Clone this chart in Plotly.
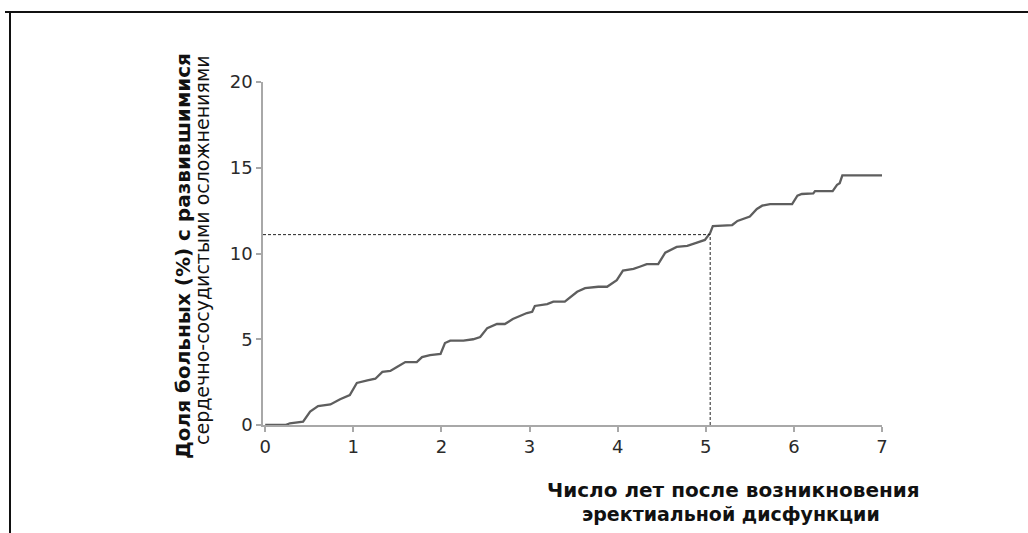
import plotly.graph_objects as go

years = [0.00, 0.23, 0.28, 0.43, 0.51, 0.60, 0.74, 0.85, 0.96, 1.04, 1.16, 1.25, 1.33, 1.42,
         1.50, 1.59, 1.72, 1.78, 1.87, 1.99, 2.04, 2.10, 2.25, 2.36, 2.44, 2.52, 2.63, 2.72,
         2.81, 2.97, 3.03, 3.06, 3.20, 3.27, 3.40, 3.54, 3.63, 3.78, 3.88, 3.99, 4.06, 4.18,
         4.25, 4.33, 4.46, 4.54, 4.67, 4.79, 4.90, 4.99, 5.05, 5.08, 5.30, 5.36, 5.50, 5.58,
         5.64, 5.73, 5.98, 6.04, 6.09, 6.22, 6.24, 6.44, 6.49, 6.52, 6.55, 7.00]
percent = [0.00, 0.00, 0.10, 0.20, 0.78, 1.10, 1.20, 1.50, 1.75, 2.45, 2.60, 2.70, 3.10, 3.15,
           3.40, 3.67, 3.67, 3.96, 4.08, 4.14, 4.78, 4.92, 4.92, 5.00, 5.13, 5.65, 5.89, 5.89,
           6.18, 6.53, 6.60, 6.94, 7.05, 7.19, 7.19, 7.77, 7.98, 8.06, 8.06, 8.45, 9.00, 9.10,
           9.23, 9.38, 9.38, 10.05, 10.38, 10.44, 10.63, 10.79, 11.20, 11.60, 11.66, 11.90, 12.15, 12.60,
           12.79, 12.88, 12.88, 13.37, 13.47, 13.50, 13.64, 13.64, 14.00, 14.10, 14.55, 14.55]

ref_year = 5.05
ref_percent = 11.1

x_ticks = [0, 1, 2, 3, 4, 5, 6, 7]
y_ticks = [0, 5, 10, 15, 20]

y_title_1 = "Доля больных (%) с развившимися"
y_title_2 = "сердечно-сосудистыми осложнениями"
x_title_1 = "Число лет после возникновения"
x_title_2 = "эректиальной дисфункции"

W, H = 1028, 533
L, R, T, B = 263, 882, 82, 425
pw, ph = R - L, B - T


def px(xp):
    return (xp - L) / pw


def py(yp):
    return (B - yp) / ph


FONT = "DejaVu Sans, Arial, sans-serif"

fig = go.Figure()
fig.add_trace(go.Scatter(x=years, y=percent, mode="lines",
                         line=dict(color="#5e5e5e", width=2.3), showlegend=False,
                         hoverinfo="skip"))

axis_common = dict(showgrid=False, zeroline=False, showline=True, linecolor="#a8a8a8",
                   linewidth=1.5, ticks="outside", ticklen=5, tickcolor="#a8a8a8",
                   tickwidth=1.5, tickfont=dict(family=FONT, size=18, color="#2a2a2a"))

fig.update_layout(
    width=W, height=H,
    margin=dict(l=L, r=W - R, t=T, b=H - B, pad=0),
    paper_bgcolor="white", plot_bgcolor="white",
    xaxis=dict(range=[-0.025, 7.0], tickvals=x_ticks, **axis_common),
    yaxis=dict(range=[0, 20], tickvals=y_ticks, **axis_common),
)

# dashed reference lines
fig.add_shape(type="line", xref="x", yref="y", x0=-0.025, x1=ref_year, y0=ref_percent, y1=ref_percent,
              line=dict(color="#222222", width=1, dash="3px,2px"))
fig.add_shape(type="line", xref="x", yref="y", x0=ref_year, x1=ref_year, y0=0, y1=ref_percent,
              line=dict(color="#222222", width=1, dash="3px,2px"))

# frame lines
fig.add_shape(type="line", xref="paper", yref="paper", x0=px(5), x1=px(1030), y0=py(12), y1=py(12),
              line=dict(color="#111111", width=2))
fig.add_shape(type="line", xref="paper", yref="paper", x0=px(10), x1=px(10), y0=py(12), y1=py(540),
              line=dict(color="#111111", width=2))

# axis titles
fig.add_annotation(xref="paper", yref="paper", x=px(183), y=py(256), text="<b>" + y_title_1 + "</b>",
                   textangle=-90, showarrow=False, xanchor="center", yanchor="middle",
                   font=dict(family=FONT, size=20, color="#111111"))
fig.add_annotation(xref="paper", yref="paper", x=px(202), y=py(250), text=y_title_2,
                   textangle=-90, showarrow=False, xanchor="center", yanchor="middle",
                   font=dict(family=FONT, size=19, color="#111111"))
fig.add_annotation(xref="paper", yref="paper", x=px(733), y=py(490), text="<b>" + x_title_1 + "</b>",
                   showarrow=False, xanchor="center", yanchor="middle",
                   font=dict(family=FONT, size=20, color="#111111"))
fig.add_annotation(xref="paper", yref="paper", x=px(731), y=py(514), text="<b>" + x_title_2 + "</b>",
                   showarrow=False, xanchor="center", yanchor="middle",
                   font=dict(family=FONT, size=19, color="#111111"))

fig.write_html("out.html")
